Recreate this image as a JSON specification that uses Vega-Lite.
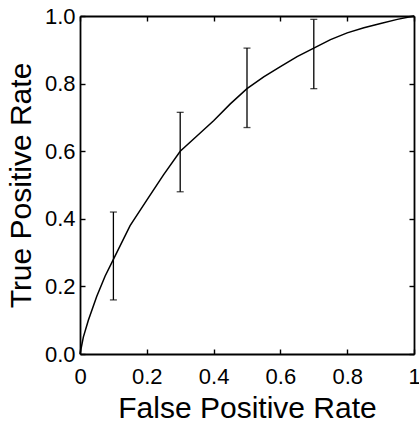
{
  "$schema": "https://vega.github.io/schema/vega-lite/v6.json",
  "autosize": {"type": "none"},
  "width": 334,
  "height": 338,
  "padding": {"left": 80, "top": 16, "right": 5, "bottom": 74},
  "background": "white",
  "config": {
    "view": {"stroke": null},
    "font": "Liberation Sans",
    "axis": {
      "domainColor": "black", "domainWidth": 1.8, "tickColor": "black", "tickWidth": 1.4,
      "grid": false, "labelColor": "black", "titleColor": "black",
      "labelFont": "Liberation Sans", "titleFont": "Liberation Sans",
      "labelFontSize": 22, "titleFontSize": 30, "titleFontWeight": "normal"
    }
  },
  "datasets": {
    "curve": [
      {"fpr": 0, "tpr": 0},
      {"fpr": 0.01, "tpr": 0.05},
      {"fpr": 0.025, "tpr": 0.1},
      {"fpr": 0.05, "tpr": 0.17},
      {"fpr": 0.075, "tpr": 0.23},
      {"fpr": 0.1, "tpr": 0.28},
      {"fpr": 0.15, "tpr": 0.38},
      {"fpr": 0.2, "tpr": 0.455},
      {"fpr": 0.25, "tpr": 0.53},
      {"fpr": 0.3, "tpr": 0.6},
      {"fpr": 0.35, "tpr": 0.645},
      {"fpr": 0.4, "tpr": 0.69},
      {"fpr": 0.45, "tpr": 0.74},
      {"fpr": 0.5, "tpr": 0.785},
      {"fpr": 0.55, "tpr": 0.82},
      {"fpr": 0.6, "tpr": 0.85},
      {"fpr": 0.65, "tpr": 0.88},
      {"fpr": 0.7, "tpr": 0.905},
      {"fpr": 0.75, "tpr": 0.93},
      {"fpr": 0.8, "tpr": 0.95},
      {"fpr": 0.85, "tpr": 0.965},
      {"fpr": 0.9, "tpr": 0.978},
      {"fpr": 0.95, "tpr": 0.99},
      {"fpr": 1, "tpr": 1}
    ],
    "bars": [
      {"fpr": 0.1, "lo": 0.16, "hi": 0.42},
      {"fpr": 0.3, "lo": 0.48, "hi": 0.715},
      {"fpr": 0.5, "lo": 0.67, "hi": 0.905},
      {"fpr": 0.7, "lo": 0.785, "hi": 0.99}
    ]
  },
  "layer": [
    {
      "data": {"name": "curve"},
      "mark": {"type": "line", "color": "black", "strokeWidth": 1.5},
      "encoding": {
        "x": {"field": "fpr", "type": "quantitative", "scale": {"domain": [0, 1], "nice": false},
          "axis": {"orient": "bottom", "title": "False Positive Rate", "values": [0, 0.2, 0.4, 0.6, 0.8, 1],
            "labelExpr": "datum.value == 0 ? '0' : datum.value == 1 ? '1' : format(datum.value, '.1f')",
            "tickSize": -5, "labelPadding": 17, "titlePadding": 6, "labelFlush": false}},
        "y": {"field": "tpr", "type": "quantitative", "scale": {"domain": [0, 1], "nice": false},
          "axis": {"orient": "left", "title": "True Positive Rate", "values": [0, 0.2, 0.4, 0.6, 0.8, 1],
            "format": ".1f", "tickSize": -5, "labelPadding": 10, "titlePadding": 8, "labelFlush": false}}
      }
    },
    {
      "data": {"name": "bars"},
      "mark": {"type": "rule", "color": "black", "strokeWidth": 1.3},
      "encoding": {
        "x": {"field": "fpr", "type": "quantitative",
          "axis": {"orient": "top", "title": null, "labels": false, "values": [0, 0.2, 0.4, 0.6, 0.8, 1], "tickSize": -5}},
        "y": {"field": "lo", "type": "quantitative",
          "axis": {"orient": "right", "title": null, "labels": false, "values": [0, 0.2, 0.4, 0.6, 0.8, 1], "tickSize": -5}},
        "y2": {"field": "hi"}
      }
    },
    {
      "data": {"name": "bars"},
      "mark": {"type": "tick", "orient": "horizontal", "color": "black", "size": 7, "thickness": 1.3},
      "encoding": {
        "x": {"field": "fpr", "type": "quantitative", "axis": null},
        "y": {"field": "lo", "type": "quantitative", "axis": null}
      }
    },
    {
      "data": {"name": "bars"},
      "mark": {"type": "tick", "orient": "horizontal", "color": "black", "size": 7, "thickness": 1.3},
      "encoding": {
        "x": {"field": "fpr", "type": "quantitative", "axis": null},
        "y": {"field": "hi", "type": "quantitative", "axis": null}
      }
    }
  ],
  "resolve": {"axis": {"x": "independent", "y": "independent"}}
}
